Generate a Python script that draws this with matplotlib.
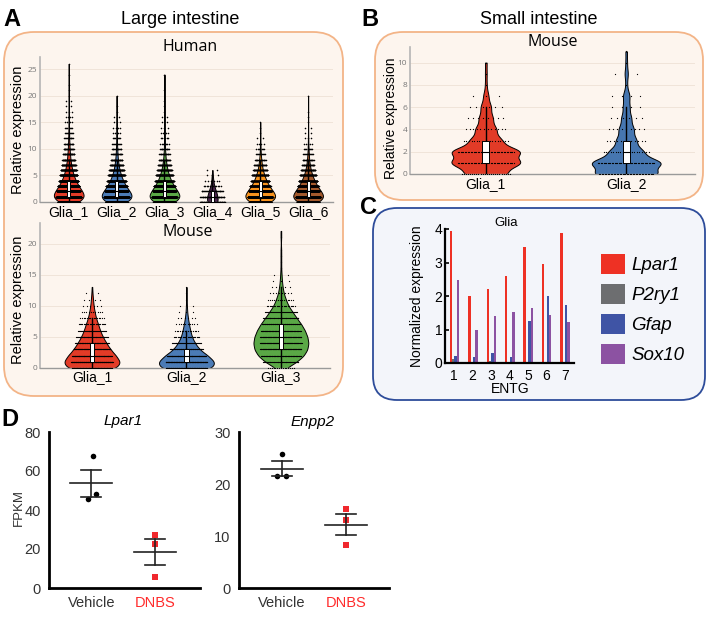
import numpy as np
import matplotlib
matplotlib.use("Agg")
import matplotlib.pyplot as plt
from matplotlib.patches import FancyBboxPatch, Rectangle

plt.rcParams["font.family"] = ["Liberation Sans", "DejaVu Sans"]

W, H = 710, 618

# ---------------- data ----------------
# A, human: number of cells at each integer expression level (0, 1, 2, ...)
human_labels = ["Glia_1", "Glia_2", "Glia_3", "Glia_4", "Glia_5", "Glia_6"]
human_counts = [
    [250, 400, 330, 240, 170, 120, 85, 60, 42, 30, 22, 16, 12, 9, 7, 5, 4, 3, 2, 2, 1, 1, 1, 0, 1, 0, 1],
    [250, 380, 300, 210, 150, 100, 68, 45, 30, 20, 14, 10, 7, 5, 4, 3, 2, 1, 1, 0, 1],
    [220, 330, 260, 190, 130, 90, 60, 40, 26, 17, 12, 8, 6, 4, 3, 2, 2, 1, 1, 1, 0, 1, 0, 0, 1],
    [40, 35, 25, 12, 6, 3, 2],
    [200, 300, 230, 160, 110, 75, 45, 30, 18, 10, 7, 4, 2, 1, 1, 1],
    [200, 300, 230, 165, 115, 75, 48, 30, 19, 12, 8, 5, 3, 2, 2, 1, 1, 1, 0, 0, 1],
]
# q1, median, q3, lower whisker, upper whisker
human_boxes = [(1, 2, 4, 0, 8), (1, 2, 4, 0, 8), (1, 2, 4, 0, 8),
               (0, 1, 2, 0, 5), (1, 2, 4, 0, 8), (1, 2, 4, 0, 8)]

# A, mouse
mouse_labels = ["Glia_1", "Glia_2", "Glia_3"]
mouse_counts = [
    [95, 105, 88, 68, 53, 40, 30, 23, 15, 10, 6, 4, 2, 1],
    [105, 110, 83, 50, 33, 21, 15, 10, 6, 3, 2, 1, 1, 1],
    [15, 45, 65, 75, 78, 75, 68, 58, 45, 33, 21, 14, 8, 5, 3, 2, 1, 1, 1, 1, 0, 1, 1],
]
mouse_boxes = [(1, 2, 4, 0, 8), (1, 2, 3, 0, 6), (3, 5, 7, 0, 13)]

# B, small intestine mouse
small_labels = ["Glia_1", "Glia_2"]
small_counts = [
    [24, 40, 40, 18, 12, 8, 6, 3, 1, 1, 1],
    [38, 42, 20, 12, 9, 6, 4, 4, 1, 2, 1, 1],
]
small_boxes = [(1, 2, 3, 0, 6), (1, 2, 3, 0, 6)]

# C, normalized expression per ENTG
entg = [1, 2, 3, 4, 5, 6, 7]
genes = ["Lpar1", "P2ry1", "Gfap", "Sox10"]
lpar1 = [3.95, 2.0, 2.21, 2.59, 3.46, 2.97, 3.89]
p2ry1 = [0.12, 0.02, 0.05, 0.04, 0.01, 0.01, 0.01]
gfap = [0.22, 0.18, 0.30, 0.18, 1.24, 2.0, 1.74]
sox10 = [2.48, 1.0, 1.41, 1.53, 1.63, 1.43, 1.23]

# D, FPKM
d_groups = ["Vehicle", "DNBS"]
lpar1_vehicle = [67.5, 45.6, 48.2]
lpar1_dnbs = [27.2, 22.6, 5.6]
enpp2_vehicle = [25.8, 21.5, 21.5]
enpp2_dnbs = [15.2, 13.1, 8.3]

# ---------------- figure ----------------
fig = plt.figure(figsize=(W / 100, H / 100), dpi=100)


def px_axes(l, t, r, b):
    ax = fig.add_axes([l / W, 1 - b / H, (r - l) / W, (b - t) / H])
    ax.set_facecolor("none")
    return ax


bg = px_axes(0, 0, W, H)
bg.set_xlim(0, W)
bg.set_ylim(H, 0)
bg.axis("off")

# rounded panel boxes
bg.add_patch(FancyBboxPatch((4, 32), 339, 364, boxstyle="round,pad=0,rounding_size=30",
                            fc="#fdf5ee", ec="#f3b487", lw=1.3))
bg.add_patch(FancyBboxPatch((375, 32), 328, 168, boxstyle="round,pad=0,rounding_size=28",
                            fc="#fdf5ee", ec="#f3b487", lw=1.3))
bg.add_patch(FancyBboxPatch((373, 208), 332, 192, boxstyle="round,pad=0,rounding_size=24",
                            fc="#f3f5fa", ec="#2d4c9a", lw=1.3))

# texts
bold = dict(fontsize=17, fontweight="bold", ha="left", va="center")
bg.text(3, 20, "A", **bold)
bg.text(361, 20, "B", **bold)
bg.text(360, 207, "C", **bold)
bg.text(1, 420, "D", **bold)
bg.text(180, 20, "Large intestine", fontsize=13, ha="center", va="center")
bg.text(539, 20, "Small intestine", fontsize=13, ha="center", va="center")
bg.text(190, 47, "Human", fontsize=11.5, family="Open Sans", ha="center", va="center")
bg.text(188, 232, "Mouse", fontsize=11.5, family="Open Sans", ha="center", va="center")
bg.text(553, 42, "Mouse", fontsize=11.5, family="Open Sans", ha="center", va="center")
ylab = dict(fontsize=10.5, rotation=90, ha="center", va="center")
bg.text(18, 130, "Relative expression", **ylab)
bg.text(18, 300, "Relative expression", **ylab)
bg.text(391, 118, "Relative expression", fontsize=10, rotation=90, ha="center", va="center")
bg.text(417, 296, "Normalized expression", fontsize=10, rotation=90, ha="center", va="center")
bg.text(506, 223, "Glia", fontsize=9.5, ha="center", va="center")
bg.text(510, 389, "ENTG", fontsize=10, ha="center", va="center")
bg.text(123, 421, "Lpar1", fontsize=11, style="italic", ha="center", va="center")
bg.text(313, 422, "Enpp2", fontsize=11, style="italic", ha="center", va="center")
bg.text(19, 508, "FPKM", fontsize=9.5, color="#333333", rotation=90, ha="center", va="center")


def violin_panel(ax, counts_list, boxes, labels, colors, widths, bw, jitter, box_w,
                 yticks, ylim, xlim, label_pad, dot_s):
    dx, dy = [], []
    for i, counts in enumerate(counts_list):
        levels = np.arange(len(counts))
        samples = np.repeat(levels, counts)
        parts = ax.violinplot([samples], positions=[i], widths=widths[i], showextrema=False,
                              bw_method=bw / samples.std(ddof=1), points=300)
        for body in parts["bodies"]:
            body.set_facecolor(colors[i])
            body.set_edgecolor("black")
            body.set_linewidth(0.7)
            body.set_alpha(1)
            body.set_zorder(2)
        cmax = max(counts)
        for lev, c in zip(levels, counts):
            if c == 0:
                continue
            hw = jitter * (c / cmax) ** 0.3
            xs = np.linspace(-hw, hw, c) if c > 1 else np.zeros(1)
            dx.extend(i + xs)
            dy.extend([lev] * c)
        q1, med, q3, lo, hi = boxes[i]
        ax.plot([i, i], [lo, hi], color="black", lw=1, zorder=4)
        ax.add_patch(Rectangle((i - box_w / 2, q1), box_w, q3 - q1, fc="white", ec="black",
                               lw=0.7, zorder=5))
        ax.plot([i - box_w / 2, i + box_w / 2], [med, med], color="black", lw=0.8, zorder=6)
    ax.scatter(dx, dy, s=dot_s, c="black", linewidths=0, zorder=3)
    ax.set_xlim(*xlim)
    ax.set_ylim(*ylim)
    ax.set_yticks(yticks)
    ax.set_xticks(range(len(labels)))
    ax.set_xticklabels(labels, fontsize=10)
    ax.tick_params(axis="x", length=0, pad=label_pad)
    ax.tick_params(axis="y", length=0, pad=2, labelsize=6, labelcolor="#777777")
    for t in ax.get_yticklabels():
        t.set_family("Open Sans")
    ax.grid(axis="y", color="#eee1d5", lw=0.6)
    ax.set_axisbelow(True)
    for s in ["top", "right"]:
        ax.spines[s].set_visible(False)
    ax.spines["left"].set_color("#b5b5b5")
    ax.spines["left"].set_linewidth(1.2)
    ax.spines["bottom"].set_color("#9a9a9a")
    ax.spines["bottom"].set_linewidth(1)


# ---- A human ----
ax_h = px_axes(40, 57, 333, 202)
violin_panel(ax_h, human_counts, human_boxes, human_labels,
             ["#e23b27", "#4b7bb6", "#5aa846", "#4e2750", "#f7931e", "#a3592c"],
             [0.62, 0.62, 0.62, 0.22, 0.62, 0.62], bw=0.7, jitter=0.26, box_w=0.06,
             yticks=[0, 5, 10, 15, 20, 25], ylim=(0, 27.3), xlim=(-0.6, 5.52),
             label_pad=2.5, dot_s=1.3)

# ---- A mouse ----
ax_m = px_axes(40, 223, 330, 368)
violin_panel(ax_m, mouse_counts, mouse_boxes, mouse_labels,
             ["#e23b27", "#4b7bb6", "#5aa846"],
             [0.58, 0.58, 0.58], bw=0.6, jitter=0.22, box_w=0.05,
             yticks=[0, 5, 10, 15, 20], ylim=(0, 23.3), xlim=(-0.55, 2.52),
             label_pad=1.8, dot_s=0.8)

# ---- B ----
ax_b = px_axes(410, 47, 695, 174)
violin_panel(ax_b, small_counts, small_boxes, small_labels,
             ["#e23b27", "#4676b0"],
             [0.49, 0.49], bw=0.45, jitter=0.2, box_w=0.05,
             yticks=[0, 2, 4, 6, 8, 10], ylim=(0, 11.4), xlim=(-0.54, 1.49),
             label_pad=2.5, dot_s=0.8)

# ---- C ----
ax_c = px_axes(445, 229, 574, 363)
gene_vals = [lpar1, p2ry1, gfap, sox10]
gene_cols = ["#ee3124", "#6d6e70", "#3f54a5", "#8c52a2"]
offsets = [-0.18, -0.05, 0.08, 0.21]
x = np.array(entg)
handles = []
for vals, col, off in zip(gene_vals, gene_cols, offsets):
    handles.append(ax_c.bar(x + off, vals, width=0.13, color=col, lw=0))
ax_c.set_xlim(0.5, 7.5)
ax_c.set_ylim(0, 4)
ax_c.set_xticks(entg)
ax_c.set_yticks([0, 1, 2, 3, 4])
ax_c.tick_params(axis="x", length=0, pad=4, labelsize=10)
ax_c.tick_params(axis="y", direction="in", length=3, width=1.2, pad=2, labelsize=10)
for s in ["top", "right"]:
    ax_c.spines[s].set_visible(False)
for s in ["left", "bottom"]:
    ax_c.spines[s].set_linewidth(1.6)
fig.legend(handles, genes, loc="upper left", bbox_to_anchor=(601 / W, 1 - 254 / H),
           frameon=False, borderpad=0, borderaxespad=0, handlelength=1.3, handleheight=1.3,
           handletextpad=0.3, labelspacing=0.5, prop=dict(size=13.5, style="italic"))

# ---- D ----
veh_jitter = {"Lpar1": [0.02, -0.05, 0.08], "Enpp2": [0.0, -0.08, 0.06]}


def dot_panel(ax, name, vehicle, dnbs, ylim, yticks, xlim):
    for i, (vals, mk, col) in enumerate([(vehicle, "o", "black"), (dnbs, "s", "#f0282d")]):
        vals = np.array(vals)
        off = veh_jitter[name] if i == 0 else [0, 0, 0]
        ax.scatter(i + np.array(off), vals, marker=mk, s=16, c=col, linewidths=0, zorder=3)
        m = vals.mean()
        sem = vals.std(ddof=1) / np.sqrt(len(vals))
        ax.plot([i - 0.33, i + 0.33], [m, m], color="#222222", lw=1.2, zorder=4)
        ax.plot([i, i], [m - sem, m + sem], color="#222222", lw=1.2, zorder=4)
        for e in (m - sem, m + sem):
            ax.plot([i - 0.16, i + 0.16], [e, e], color="#222222", lw=1.2, zorder=4)
    ax.set_xlim(*xlim)
    ax.set_ylim(*ylim)
    ax.set_yticks(yticks)
    ax.set_xticks([0, 1])
    ax.set_xticklabels(d_groups, fontsize=10.5)
    ax.get_xticklabels()[0].set_color("#333333")
    ax.get_xticklabels()[1].set_color("#ff2b2b")
    ax.tick_params(axis="x", length=0, pad=6)
    ax.tick_params(axis="y", length=0, pad=6, labelsize=10.5, labelcolor="#333333")
    for s in ["top", "right"]:
        ax.spines[s].set_visible(False)
    for s in ["left", "bottom"]:
        ax.spines[s].set_linewidth(2)


ax_d1 = px_axes(49, 432, 200, 588)
dot_panel(ax_d1, "Lpar1", lpar1_vehicle, lpar1_dnbs, (0, 80), [0, 20, 40, 60, 80], (-0.66, 1.7))
ax_d2 = px_axes(239, 432, 389, 588)
dot_panel(ax_d2, "Enpp2", enpp2_vehicle, enpp2_dnbs, (0, 30), [0, 10, 20, 30], (-0.67, 1.67))

fig.savefig("out.png", dpi=100)
